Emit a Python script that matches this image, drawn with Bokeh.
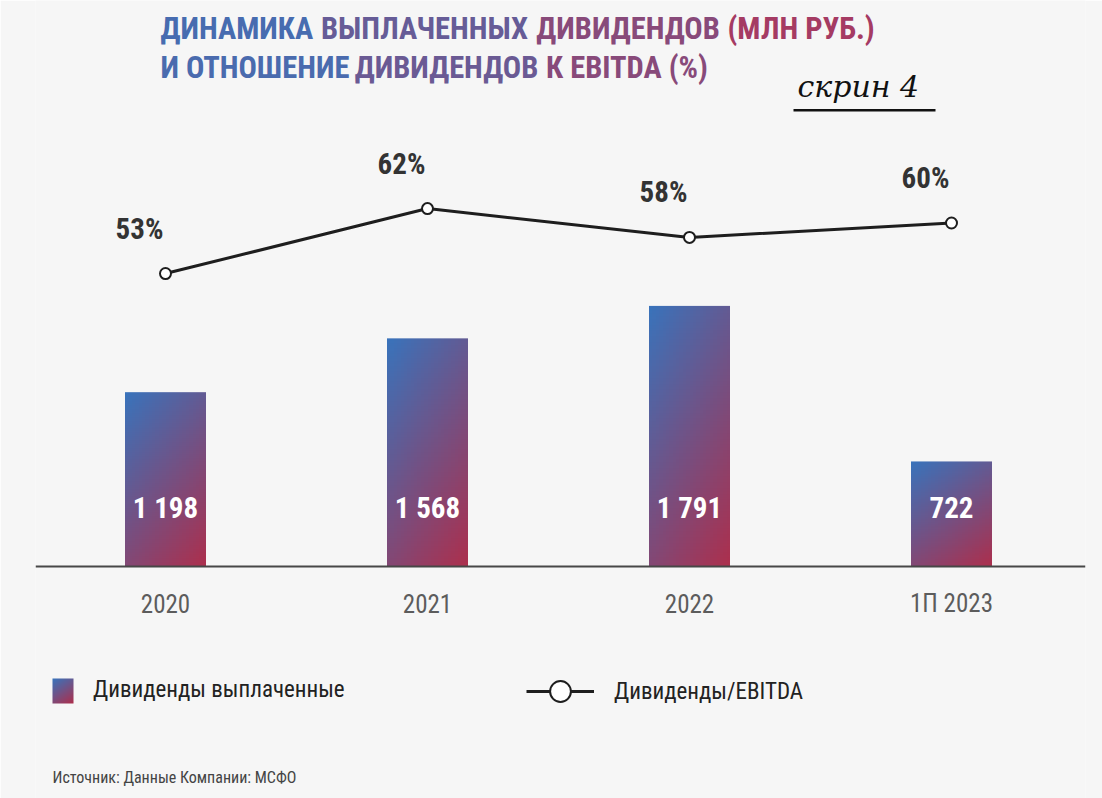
import numpy as np
from bokeh.plotting import figure
from bokeh.models import (Range1d, ColumnDataSource, Label, Legend, LegendItem,
                          BoxAnnotation, Span)
from bokeh.core.properties import value
from bokeh.embed import file_html
from bokeh.resources import INLINE

# ---------------- data ----------------
categories = ["2020", "2021", "2022", "1П 2023"]
dividends = [1198, 1568, 1791, 722]
dividend_labels = ["1 198", "1 568", "1 791", "722"]
ratio_pct = [53, 62, 58, 60]
ratio_labels = ["53%", "62%", "58%", "60%"]

title_line1 = ["ДИНАМИКА", "ВЫПЛАЧЕННЫХ", "ДИВИДЕНДОВ", "(МЛН РУБ.)"]
title_line2 = ["И ОТНОШЕНИЕ", "ДИВИДЕНДОВ", "К EBITDA (%)"]
legend_bar = "Дивиденды выплаченные"
legend_line = "Дивиденды/EBITDA"
source_note = "Источник: Данные Компании: МСФО"
stamp = "скрин 4"

# ---------------- layout constants (pixels) ----------------
W, H = 1102, 798
BG = "#f6f6f6"
FONT = "Roboto Condensed"
FRAME_L, FRAME_R = 35, 1085
BASE_PY = 566                 # bar baseline
X0, DX = 165, 262             # first category pixel, spacing
PX_PER_UNIT = 0.1455          # bar scale
PCT_ZERO_PY, PX_PER_PCT = 655.7, 7.22

def fx(px):
    return (px - X0) / DX

def fy(py):
    return (BASE_PY - py) / PX_PER_UNIT

def fp(py):
    return (PCT_ZERO_PY - py) / PX_PER_PCT

xs = list(range(len(categories)))
bar_w = 81 / DX

p = figure(width=W, height=H, title=None,
           x_range=Range1d(fx(FRAME_L), fx(FRAME_R)),
           y_range=Range1d(fy(H), fy(0)),
           output_backend="svg", toolbar_location=None,
           x_axis_location=None, y_axis_location=None,
           min_border_left=FRAME_L, min_border_right=W - FRAME_R,
           min_border_top=0, min_border_bottom=0,
           background_fill_color=BG, border_fill_color=BG, outline_line_color=None)
p.grid.visible = False
p.extra_y_ranges = {"pct": Range1d(fp(H), fp(0))}

# baseline (category axis line) and category labels
p.add_layout(Span(location=0, dimension="width", line_color="#474747", line_width=2))
p.text(x=xs, y=fy(603), text=categories, text_color="#5c5c5c",
       text_font=value(FONT), text_font_size="25px",
       text_align="center", text_baseline="middle")

# gradient image for bars
C_BLUE = np.array([58, 115, 187], float)
C_RED = np.array([172, 48, 78], float)

def gradient(nrows=90, ncols=24):
    u = np.linspace(0, 1, ncols)[None, :]
    v = np.linspace(1, 0, nrows)[:, None]
    t = np.clip((0.55 * u + v) / 1.55, 0, 1)
    img = np.empty((nrows, ncols), dtype=np.uint32)
    view = img.view(dtype=np.uint8).reshape((nrows, ncols, 4))
    for k in range(3):
        view[:, :, k] = (C_BLUE[k] + (C_RED[k] - C_BLUE[k]) * t).astype(np.uint8)
    view[:, :, 3] = 255
    return img

src = ColumnDataSource(dict(
    x=xs, top=dividends, lab=dividend_labels, pct=ratio_pct, plab=ratio_labels,
    left=[x - bar_w / 2 for x in xs], dw=[bar_w] * len(xs),
    img=[gradient() for _ in xs]))

bars = p.vbar(x="x", top="top", width=bar_w, source=src,
              fill_color="#7a4f8a", fill_alpha=0, line_color=None)
p.image_rgba(image="img", x="left", y=0, dw="dw", dh="top", source=src)

p.text(x="x", y=fy(507), text="lab", source=src, text_color="white",
       text_font=value(FONT), text_font_style="bold", text_font_size="29px",
       text_align="center", text_baseline="middle")

line_r = p.line("x", "pct", source=src, y_range_name="pct",
                line_color="#1e1e1e", line_width=3)
dots = p.scatter("x", "pct", source=src, y_range_name="pct", size=11,
                 fill_color="white", line_color="#1e1e1e", line_width=2)
p.text(x="x", y="pct", text="plab", source=src, y_range_name="pct",
       x_offset=-26, y_offset=-45, text_color="#333333",
       text_font=value(FONT), text_font_style="bold", text_font_size="29px",
       text_align="center", text_baseline="middle")

# ---------------- title: words coloured along a blue->red horizontal gradient ----
EM = {" ": .25, "А": .59, "Б": .57, "В": .59, "Д": .64, "Е": .50, "И": .63, "К": .57,
      "Л": .62, "М": .78, "Н": .63, "О": .59, "П": .63, "Р": .57, "Т": .50, "У": .55,
      "Х": .57, "Ч": .60, "Ш": .73, "Ы": .76, "(": .32, ")": .32, ".": .25, "%": .72,
      "E": .50, "B": .57, "I": .26, "T": .52, "D": .58, "A": .59}
T_SIZE = 30.5
T_LEFT, T_RIGHT = 160, 877

def est_w(s):
    return sum(EM.get(ch, 0.56) for ch in s) * T_SIZE * 0.99

def grad_col(px):
    t = min(max((px - T_LEFT) / (T_RIGHT - T_LEFT), 0), 1)
    c = C_BLUE + (np.array([178, 52, 88], float) - C_BLUE) * t
    return "#%02x%02x%02x" % tuple(int(round(v)) for v in c)

for words, py in ((title_line1, 28), (title_line2, 67)):
    cur = T_LEFT
    for w in words:
        wd = est_w(w)
        p.add_layout(Label(x=fx(cur), y=fy(py), text=w, text_color=grad_col(cur + wd / 2),
                           text_font=FONT, text_font_style="bold",
                           text_font_size="%.1fpx" % T_SIZE, text_baseline="middle",
                           text_align="left"))
        cur += wd + EM[" "] * T_SIZE

# handwritten stamp
p.add_layout(Label(x=fx(797), y=fy(86), text=stamp, text_color="#111111",
                   text_font="DejaVu Serif", text_font_style="italic",
                   text_font_size="30px", text_baseline="middle"))
p.add_layout(BoxAnnotation(left=fx(793), right=fx(935), top=fy(108.5), bottom=fy(111),
                           fill_color="#111111", fill_alpha=1, line_color=None))

# ---------------- legends ----------------
common = dict(orientation="horizontal", padding=0, margin=0, border_line_color=None,
              background_fill_alpha=0, label_text_font=FONT,
              label_text_font_size="23px", label_text_color="#222222",
              label_standoff=20)
leg1 = Legend(items=[LegendItem(label=legend_bar, renderers=[bars])],
              location=(52 - FRAME_L, H - 703), glyph_width=21, glyph_height=25, **common)
leg2 = Legend(items=[LegendItem(label=legend_line, renderers=[line_r, dots])],
              location=(526 - FRAME_L, H - 717), glyph_width=68, glyph_height=52, **common)
p.add_layout(leg1)
p.add_layout(leg2)

# gradient swatch shown through the (transparent) legend key
p.image_rgba(image=[gradient(25, 21)], x=fx(52), y=fy(703), dw=21 / DX,
             dh=25 / PX_PER_UNIT)

p.add_layout(Label(x=fx(52), y=fy(777), text=source_note, text_color="#444444",
                   text_font=FONT, text_font_size="16px", text_baseline="middle"))

open("out.html", "w").write(file_html(p, INLINE))
